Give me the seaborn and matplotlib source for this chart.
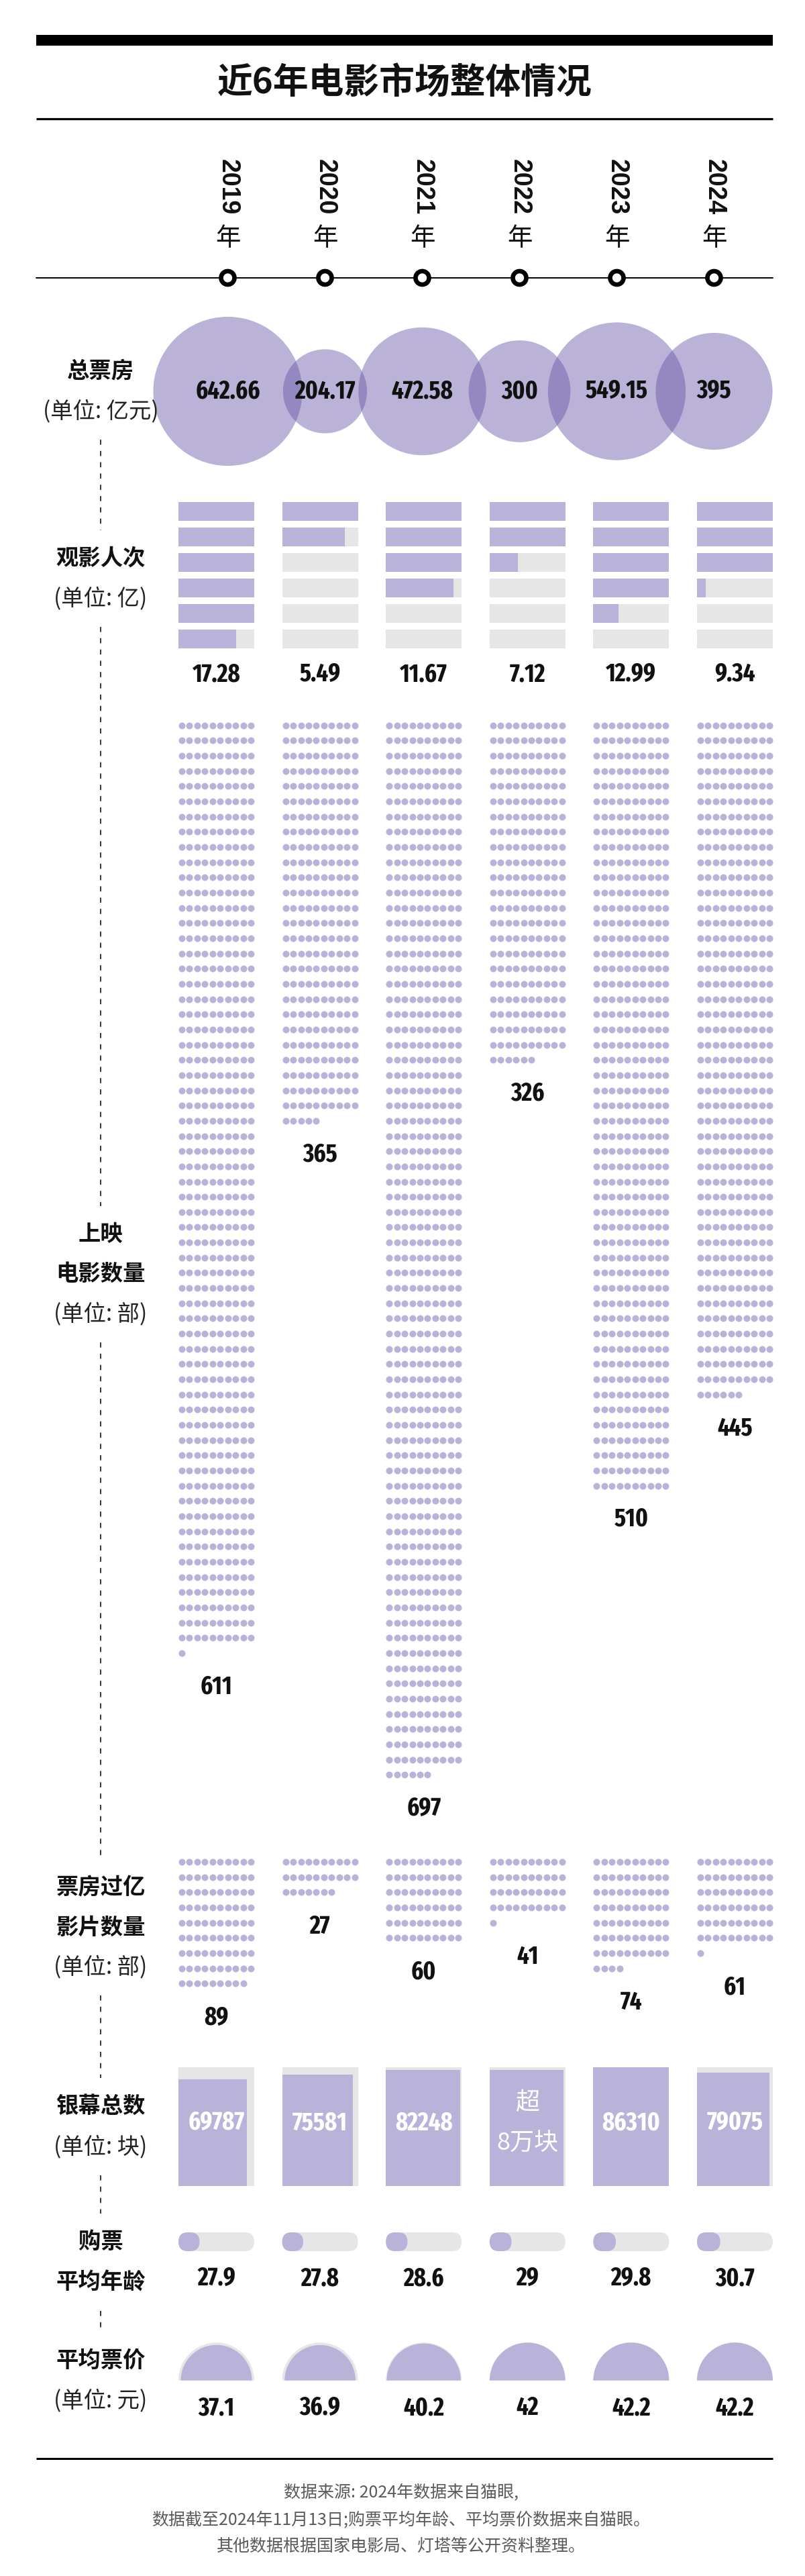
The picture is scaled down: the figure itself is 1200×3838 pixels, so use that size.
import os
import numpy as np
import pandas as pd
import matplotlib
matplotlib.use('Agg')
import matplotlib.pyplot as plt
import seaborn as sns
from matplotlib import font_manager as fm
from matplotlib.patches import Circle, Rectangle, FancyBboxPatch, Wedge

# ---- data ----
years = ['2019', '2020', '2021', '2022', '2023', '2024']
box_office = [642.66, 204.17, 472.58, 300, 549.15, 395]
attendance = [17.28, 5.49, 11.67, 7.12, 12.99, 9.34]
films = [611, 365, 697, 326, 510, 445]
film_dots = [611, 265, 696, 226, 510, 446]
hits = [89, 27, 60, 41, 74, 61]
screens = [69787, 75581, 82248, 82000, 86310, 79075]
screen_labels = ['69787', '75581', '82248', '超\n8万块', '86310', '79075']
ages = [27.9, 27.8, 28.6, 29, 29.8, 30.7]
prices = [37.1, 36.9, 40.2, 42, 42.2, 42.2]

row_labels = [
    ['总票房', '(单位: 亿元)'],
    ['观影人次', '(单位: 亿)'],
    ['上映', '电影数量', '(单位: 部)'],
    ['票房过亿', '影片数量', '(单位: 部)'],
    ['银幕总数', '(单位: 块)'],
    ['购票', '平均年龄'],
    ['平均票价', '(单位: 元)'],
]
row_label_y = [[553, 613], [832, 892], [1839, 1898, 1958], [2813, 2872, 2931],
               [3138, 3199], [3340, 3401], [3517, 3577]]

footer = ['数据来源: 2024年数据来自猫眼,',
          '数据截至2024年11月13日;购票平均年龄、平均票价数据来自猫眼。',
          '其他数据根据国家电影局、灯塔等公开资料整理。']

# ---- style ----
sns.set_theme(style='white')
plt.rcParams['font.family'] = ['Noto Sans CJK SC', 'DejaVu Sans']
CJK = ['Noto Sans CJK SC', 'DejaVu Sans']

PURPLE = '#bab3d9'
BUBBLE = '#6656a8'
GRAY = '#e6e6e6'
INK = '#111111'


def narrow_font():
    best, best_score = None, -1
    for e in fm.fontManager.ttflist:
        base = os.path.basename(e.fname).lower()
        if 'italic' in base or 'oblique' in base:
            continue
        if 'extracondensed' in base:
            score = 5
        elif 'semicondensed' in base:
            score = 2
        elif 'condensed' in base or 'narrow' in base:
            score = 4
        else:
            continue
        if 'semibold' in base or 'demibold' in base:
            score += 2
        elif 'extrabold' in base or 'black' in base:
            score += 1
        elif 'bold' in base:
            score += 3
        if score > best_score:
            best, best_score = e.fname, score
    if best:
        return fm.FontProperties(fname=best)
    return fm.FontProperties(family='Liberation Sans', weight='bold')


NUM = narrow_font()


def num_text(ax, x, y, s, size=27, color=INK):
    fp = NUM.copy()
    fp.set_size(size)
    ax.text(x, y, s, ha='center', va='center', color=color, fontproperties=fp)


W, H = 1200, 3838
fig = plt.figure(figsize=(W / 100, H / 100), dpi=100)
ax = fig.add_axes([0, 0, 1, 1])
ax.set_xlim(0, W)
ax.set_ylim(H, 0)
ax.axis('off')

L, R = 54, 1152
year_x = 339.5 + 145 * np.arange(len(years))
COL_W = 113
col_left = 266 + 154.6 * np.arange(len(years))
col_x = col_left + COL_W / 2

# ---- header ----
ax.add_patch(Rectangle((L, 52), R - L, 16, color='black', lw=0))
ax.text((L + R) / 2, 123, '近6年电影市场整体情况', ha='center', va='center',
        fontsize=38, fontweight='bold', family=CJK, color=INK)
ax.plot([L, R], [177, 177], color='black', lw=2.3, solid_capstyle='butt')

for x, yr in zip(year_x, years):
    ax.text(x, 279, yr, rotation=-90, ha='center', va='center', fontsize=27,
            fontweight='bold', family=['Liberation Sans', 'DejaVu Sans'], color=INK)
    ax.text(x, 355, '年', ha='center', va='center', fontsize=27, family=CJK, color=INK)

ax.plot([L, R], [414, 414], color='black', lw=1.4, zorder=2)
for x in year_x:
    ax.add_patch(Circle((x, 414), 10, facecolor='white', edgecolor='black', lw=4.8, zorder=3))

# ---- left labels + dashed guide ----
for lines, ys in zip(row_labels, row_label_y):
    for t, y in zip(lines, ys):
        unit = t.startswith('(')
        ax.text(150, y, t, ha='center', va='center', fontsize=24,
                fontweight='normal' if unit else 'bold', family=CJK,
                color='#222222' if unit else INK)
for ys, nxt in zip(row_label_y[:-1], row_label_y[1:]):
    ax.plot([150, 150], [ys[-1] + 42, nxt[0] - 42], color='black', lw=1.1,
            linestyle=(0, (5, 6)))

# ---- total box office bubbles ----
for x, v in zip(year_x, box_office):
    ax.add_patch(Circle((x, 583), 4.38 * np.sqrt(v), color=BUBBLE, alpha=0.45, lw=0))
    num_text(ax, x, 583, f'{v:g}')

# ---- attendance: each row = 3 (亿) ----
for left, cx, v in zip(col_left, col_x, attendance):
    for k in range(6):
        fill = min(max(v / 3 - k, 0), 1)
        yc = 762 + 38 * k
        ax.barh(yc, COL_W, left=left, height=28, color=GRAY, lw=0)
        if fill > 0:
            ax.barh(yc, COL_W * fill, left=left, height=28, color=PURPLE, lw=0)
    num_text(ax, cx, 1005, f'{v:.2f}')

# ---- dot matrices ----
PITCH_X, PITCH_Y = 11.44, 22.66


def dot_grid(counts, y0):
    rows = []
    for cx, n in zip(col_x, counts):
        for i in range(n):
            rows.append({'x': cx - 4.5 * PITCH_X + (i % 10) * PITCH_X,
                         'y': y0 + (i // 10) * PITCH_Y})
    return pd.DataFrame(rows)


def last_row_y(n, y0):
    return y0 + ((n - 1) // 10) * PITCH_Y


FILM_Y0, HIT_Y0 = 1080.7, 2774
dots = pd.concat([dot_grid(film_dots, FILM_Y0), dot_grid(hits, HIT_Y0)])
sns.scatterplot(data=dots, x='x', y='y', ax=ax, s=52, color=PURPLE,
                linewidth=0, legend=False, zorder=2)
ax.set_xlim(0, W)
ax.set_ylim(H, 0)
ax.axis('off')

for cx, n, lab in zip(col_x, film_dots, films):
    num_text(ax, cx, last_row_y(n, FILM_Y0) + 50, str(lab))
for cx, n in zip(col_x, hits):
    num_text(ax, cx, last_row_y(n, HIT_Y0) + 51, str(n))

# ---- screens ----
SCR_BOT, SCR_H = 3257, 177
smax = max(screens)
for left, cx, v, lab in zip(col_left, col_x, screens, screen_labels):
    s = np.sqrt(v / smax)
    ax.bar(left, -SCR_H, width=COL_W, bottom=SCR_BOT, align='edge', color=GRAY, lw=0)
    ax.bar(left, -SCR_H * s, width=COL_W * s, bottom=SCR_BOT, align='edge',
           color=PURPLE, lw=0)
    if '\n' in lab:
        top, bot = lab.split('\n')
        ax.text(cx, 3133, top, ha='center', va='center', fontsize=26,
                color='white', family=CJK)
        ax.text(cx, 3194, bot, ha='center', va='center', fontsize=26,
                color='white', family=CJK)
    else:
        num_text(ax, cx, 3163, lab, color='white')

# ---- average age ----
for left, cx, a in zip(col_left, col_x, ages):
    ax.add_patch(FancyBboxPatch((left, 3326), COL_W, 28,
                                boxstyle='round,pad=0,rounding_size=14',
                                color=GRAY, lw=0))
    ax.add_patch(FancyBboxPatch((left, 3326), COL_W * a / 100, 28,
                                boxstyle='round,pad=0,rounding_size=14',
                                color=PURPLE, lw=0))
    num_text(ax, cx, 3395, f'{a:g}')

# ---- average ticket price ----
pmax = max(prices)
for cx, p in zip(col_x, prices):
    ax.add_patch(Wedge((cx, 3546.7), COL_W / 2, 180, 360, color=GRAY, lw=0))
    ax.add_patch(Wedge((cx, 3546.7), COL_W / 2 * np.sqrt(p / pmax), 180, 360,
                       color=PURPLE, lw=0))
    num_text(ax, cx, 3588, f'{p:g}')

# ---- footer ----
ax.plot([L, R], [3663, 3663], color='black', lw=2.2, solid_capstyle='butt')
for t, y in zip(footer, [3714, 3755, 3794]):
    ax.text(598, y, t, ha='center', va='center', fontsize=18, color='#5a5a5a',
            family=CJK)

fig.savefig('out.png', dpi=100)
